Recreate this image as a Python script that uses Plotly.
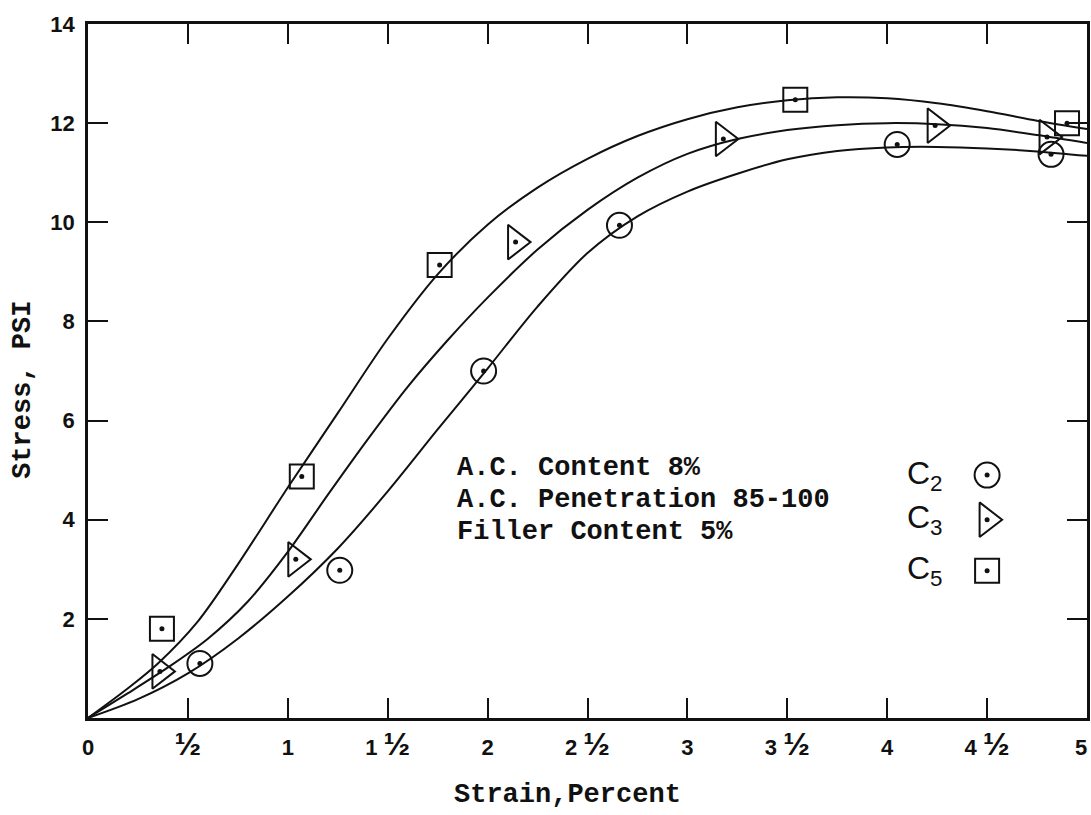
import plotly.graph_objects as go

# Tick positions and labels (the label for 5 sits against the frame edge)
HALF = "<span style='font-size:32px'>½</span>"
x_ticks = [0, 0.5, 1, 1.5, 2, 2.5, 3, 3.5, 4, 4.5]
x_tick_text = ["0", HALF, "1", "1 " + HALF, "2", "2 " + HALF, "3", "3 " + HALF,
               "4", "4 " + HALF]
x_end_label = "5"
y_ticks = [2, 4, 6, 8, 10, 12, 14]
y_tick_text = ["2", "4", "6", "8", "10", "12", "14"]

# Measured test points (strain %, stress psi)
c2_x = [0.56, 1.26, 1.98, 2.66, 4.05, 4.82]
c2_y = [1.10, 2.98, 7.00, 9.94, 11.57, 11.37]
c3_x = [0.36, 1.04, 2.14, 3.18, 4.24, 4.80]
c3_y = [0.94, 3.20, 9.60, 11.68, 11.95, 11.72]
c5_x = [0.37, 1.07, 1.76, 3.54, 4.90]
c5_y = [1.80, 4.87, 9.14, 12.47, 12.00]

# Faired stress-strain curves
c2_curve_x = [0, 0.25, 0.5, 0.75, 1.0, 1.25, 1.5, 1.75, 2.0, 2.25, 2.5, 2.75,
              3.0, 3.25, 3.5, 3.75, 4.0, 4.25, 4.5, 4.75, 5.0]
c2_curve_y = [0, 0.38, 0.90, 1.60, 2.45, 3.42, 4.57, 5.82, 7.05, 8.30, 9.38, 10.12,
              10.62, 10.98, 11.27, 11.44, 11.51, 11.52, 11.49, 11.43, 11.34]
c3_curve_x = [0, 0.2, 0.4, 0.6, 0.8, 1.0, 1.2, 1.4, 1.6, 1.8, 2.0, 2.25, 2.5,
              2.75, 3.0, 3.25, 3.5, 3.75, 4.0, 4.25, 4.5, 4.75, 5.0]
c3_curve_y = [0, 0.50, 1.02, 1.60, 2.35, 3.35, 4.50, 5.62, 6.68, 7.62, 8.48, 9.45, 10.25,
              10.90, 11.38, 11.68, 11.86, 11.96, 12.00, 11.98, 11.90, 11.76, 11.60]
c5_curve_x = [0, 0.2, 0.35, 0.55, 0.75, 1.0, 1.25, 1.5, 1.75, 2.0, 2.25, 2.5,
              2.75, 3.0, 3.25, 3.5, 3.75, 4.0, 4.25, 4.5, 4.75, 5.0]
c5_curve_y = [0, 0.60, 1.10, 1.95, 3.10, 4.65, 6.15, 7.65, 8.95, 9.95, 10.70, 11.28,
              11.74, 12.08, 12.32, 12.46, 12.52, 12.50, 12.40, 12.24, 12.05, 11.88]

# Key entries: label, marker symbol, marker size
key_labels = ["C<sub>2</sub>", "C<sub>3</sub>", "C<sub>5</sub>"]
key_symbols = ["circle-open", "triangle-right-open", "square-open"]
key_sizes = [25, 30, 24]

INK = "#111111"
MONO = "Liberation Mono"
TICK_FONT = dict(family="Liberation Sans", size=22, color=INK, weight="bold")


def add_points(fig, xs, ys, sym, size):
    # open outline plus a centre dot, as plotted by hand
    fig.add_trace(go.Scatter(
        x=xs, y=ys, mode="markers",
        marker=dict(symbol=sym, size=size, color=INK, line=dict(color=INK, width=2)),
        hoverinfo="skip", showlegend=False,
    ))
    fig.add_trace(go.Scatter(
        x=xs, y=ys, mode="markers",
        marker=dict(symbol="circle", size=5, color=INK),
        hoverinfo="skip", showlegend=False,
    ))


fig = go.Figure()

for cx, cy in [(c2_curve_x, c2_curve_y), (c3_curve_x, c3_curve_y), (c5_curve_x, c5_curve_y)]:
    fig.add_trace(go.Scatter(
        x=cx, y=cy, mode="lines",
        line=dict(color=INK, width=2, shape="spline", smoothing=0.9),
        hoverinfo="skip", showlegend=False,
    ))

for px, py, sym, size in [(c2_x, c2_y, key_symbols[0], key_sizes[0]),
                          (c3_x, c3_y, key_symbols[1], key_sizes[1]),
                          (c5_x, c5_y, key_symbols[2], key_sizes[2])]:
    add_points(fig, px, py, sym, size)

# Hand-made key at the right of the plot
key_y = [4.9, 4.0, 2.97]
for lab, sym, size, ky in zip(key_labels, key_symbols, key_sizes, key_y):
    fig.add_annotation(x=4.09, y=ky, xref="x", yref="y", text=lab, showarrow=False,
                       xanchor="left", yanchor="middle",
                       font=dict(family="Liberation Sans", size=32, color=INK))
    add_points(fig, [4.5], [ky], sym, size)

# Mix description
notes = ["A.C. Content 8%", "A.C. Penetration 85-100", "Filler Content 5%"]
for i, line in enumerate(notes):
    fig.add_annotation(x=1.835, y=5.05 - i * 0.645, xref="x", yref="y", text=line,
                       showarrow=False, xanchor="left", yanchor="middle",
                       font=dict(family=MONO, size=27, color=INK, weight="bold"))

# End-of-axis strain label
fig.add_annotation(x=4.97, y=-0.042, xref="x", yref="paper", text=x_end_label,
                   showarrow=False, xanchor="center", yanchor="middle", font=TICK_FONT)

# Axis titles
fig.add_annotation(x=0.48, y=-0.111, xref="paper", yref="paper", text="Strain,Percent",
                   showarrow=False, xanchor="center", yanchor="middle",
                   font=dict(family=MONO, size=27, color=INK, weight="bold"))
fig.add_annotation(x=-0.065, y=0.473, xref="paper", yref="paper", text="Stress, PSI",
                   showarrow=False, textangle=-90, xanchor="center", yanchor="middle",
                   font=dict(family=MONO, size=27, color=INK, weight="bold"))

axis_common = dict(
    ticks="inside", ticklen=20, tickwidth=2, tickcolor=INK,
    showline=True, linewidth=2.5, linecolor=INK, mirror="ticks",
    showgrid=False, zeroline=False, automargin=False,
    tickfont=TICK_FONT,
)

fig.update_layout(
    width=1091, height=815, autosize=False,
    margin=dict(l=88, r=4, t=24, b=97),
    paper_bgcolor="white", plot_bgcolor="white",
    xaxis=dict(range=[0, 5], tickmode="array", tickvals=x_ticks, ticktext=x_tick_text,
               ticklabelstandoff=8, **axis_common),
    yaxis=dict(range=[0, 14], tickmode="array", tickvals=y_ticks, ticktext=y_tick_text,
               ticklabelstandoff=6, **axis_common),
    hovermode=False,
)

fig.write_html("out.html")
